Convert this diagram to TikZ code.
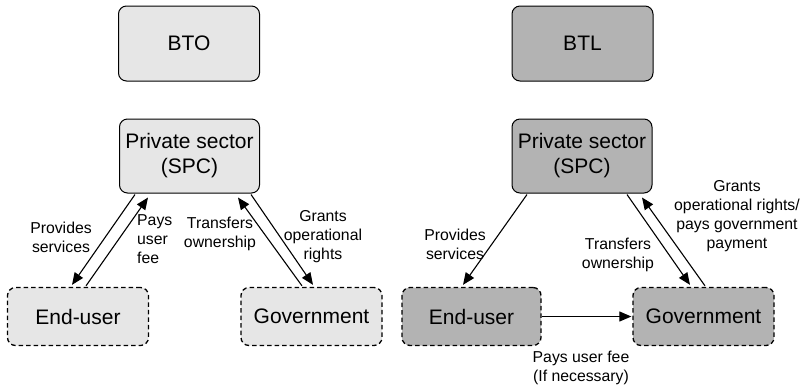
\documentclass[tikz,border=0pt]{standalone}
\usepackage{fontspec}
\setmainfont{Liberation Sans}
\usetikzlibrary{arrows.meta,calc}
\definecolor{lightfill}{HTML}{E6E6E6}
\definecolor{darkfill}{HTML}{B3B3B3}
\tikzset{
  box/.style={draw=black, line width=1pt, rounded corners=8pt, inner sep=0pt,
    align=center, font=\fontsize{21}{25}\selectfont},
  titlebox/.style={box, minimum width=141pt, minimum height=75pt},
  spcbox/.style={box, minimum width=140pt, minimum height=74pt},
  partybox/.style={box, line width=1.3pt, dash pattern=on 4.5pt off 3pt,
    minimum width=141pt, minimum height=58pt},
  flow/.style={draw=black, line width=1.1pt, -{Triangle[length=12pt,width=10pt]}},
  lbl/.style={align=center, inner sep=0pt, font=\fontsize{15.8}{19}\selectfont},
}
\begin{document}
\begin{tikzpicture}[x=1pt,y=-1pt]
\useasboundingbox (0,0) rectangle (804,384);

% ---- BTO scheme ----
\node[titlebox, fill=lightfill] (bto) at (189,43.5) {BTO};
\node[spcbox, fill=lightfill] (priv1) at (189.5,156) {Private sector\\(SPC)};
\node[partybox, fill=lightfill] (eu1) at (78,316.5) {End-user};
\node[partybox, fill=lightfill] (gov1) at (311.5,316.5) {Government};

\draw[flow] ([xshift=-54.5pt,yshift=-1pt]priv1.south) -- ([xshift=-6pt,yshift=2pt]eu1.north);
\draw[flow] ([xshift=8pt,yshift=1pt]eu1.north) -- ([xshift=-41.5pt,yshift=-4pt]priv1.south);
\draw[flow] ([xshift=-9.5pt,yshift=1pt]gov1.north) -- ([xshift=48.5pt,yshift=-4pt]priv1.south);
\draw[flow] ([xshift=61.5pt,yshift=-1pt]priv1.south) -- ([xshift=1.5pt,yshift=2pt]gov1.north);

\node[lbl] (l1) at (61,237) {Provides\\services};
\node[lbl, align=left, anchor=north west] (l2) at (137,214) {Pays\\user\\fee};
\node[lbl] (l3) at (220,233.5) {Transfers\\ownership};
\node[lbl] (l4) at (323,237) {Grants\\operational\\rights};

% ---- BTL scheme ----
\node[titlebox, fill=darkfill] (btl) at (582.5,43.5) {BTL};
\node[spcbox, fill=darkfill] (priv2) at (582,156) {Private sector\\(SPC)};
\node[partybox, fill=darkfill, minimum width=139pt] (eu2) at (471.5,316.5) {End-user};
\node[partybox, fill=darkfill] (gov2) at (703.5,316.5) {Government};

\draw[flow] ([xshift=-55pt,yshift=-1pt]priv2.south) -- ([xshift=-8.5pt,yshift=2pt]eu2.north);
\draw[flow] ([xshift=45pt,yshift=-1pt]priv2.south) -- ([xshift=-13.5pt,yshift=2pt]gov2.north);
\draw[flow] ([xshift=1.5pt,yshift=1pt]gov2.north) -- ([xshift=60pt,yshift=-4pt]priv2.south);
\draw[flow] (eu2.east) -- ([xshift=-1pt]gov2.west);

\node[lbl] (l5) at (455,244) {Provides\\services};
\node[lbl] (l6) at (618,254.5) {Transfers\\ownership};
\node[lbl] (l7) at (737,216) {Grants\\operational rights/\\pays government\\payment};
\node[lbl] (l8) at (581,367.5) {Pays user fee\\(If necessary)};
\end{tikzpicture}
\end{document}
